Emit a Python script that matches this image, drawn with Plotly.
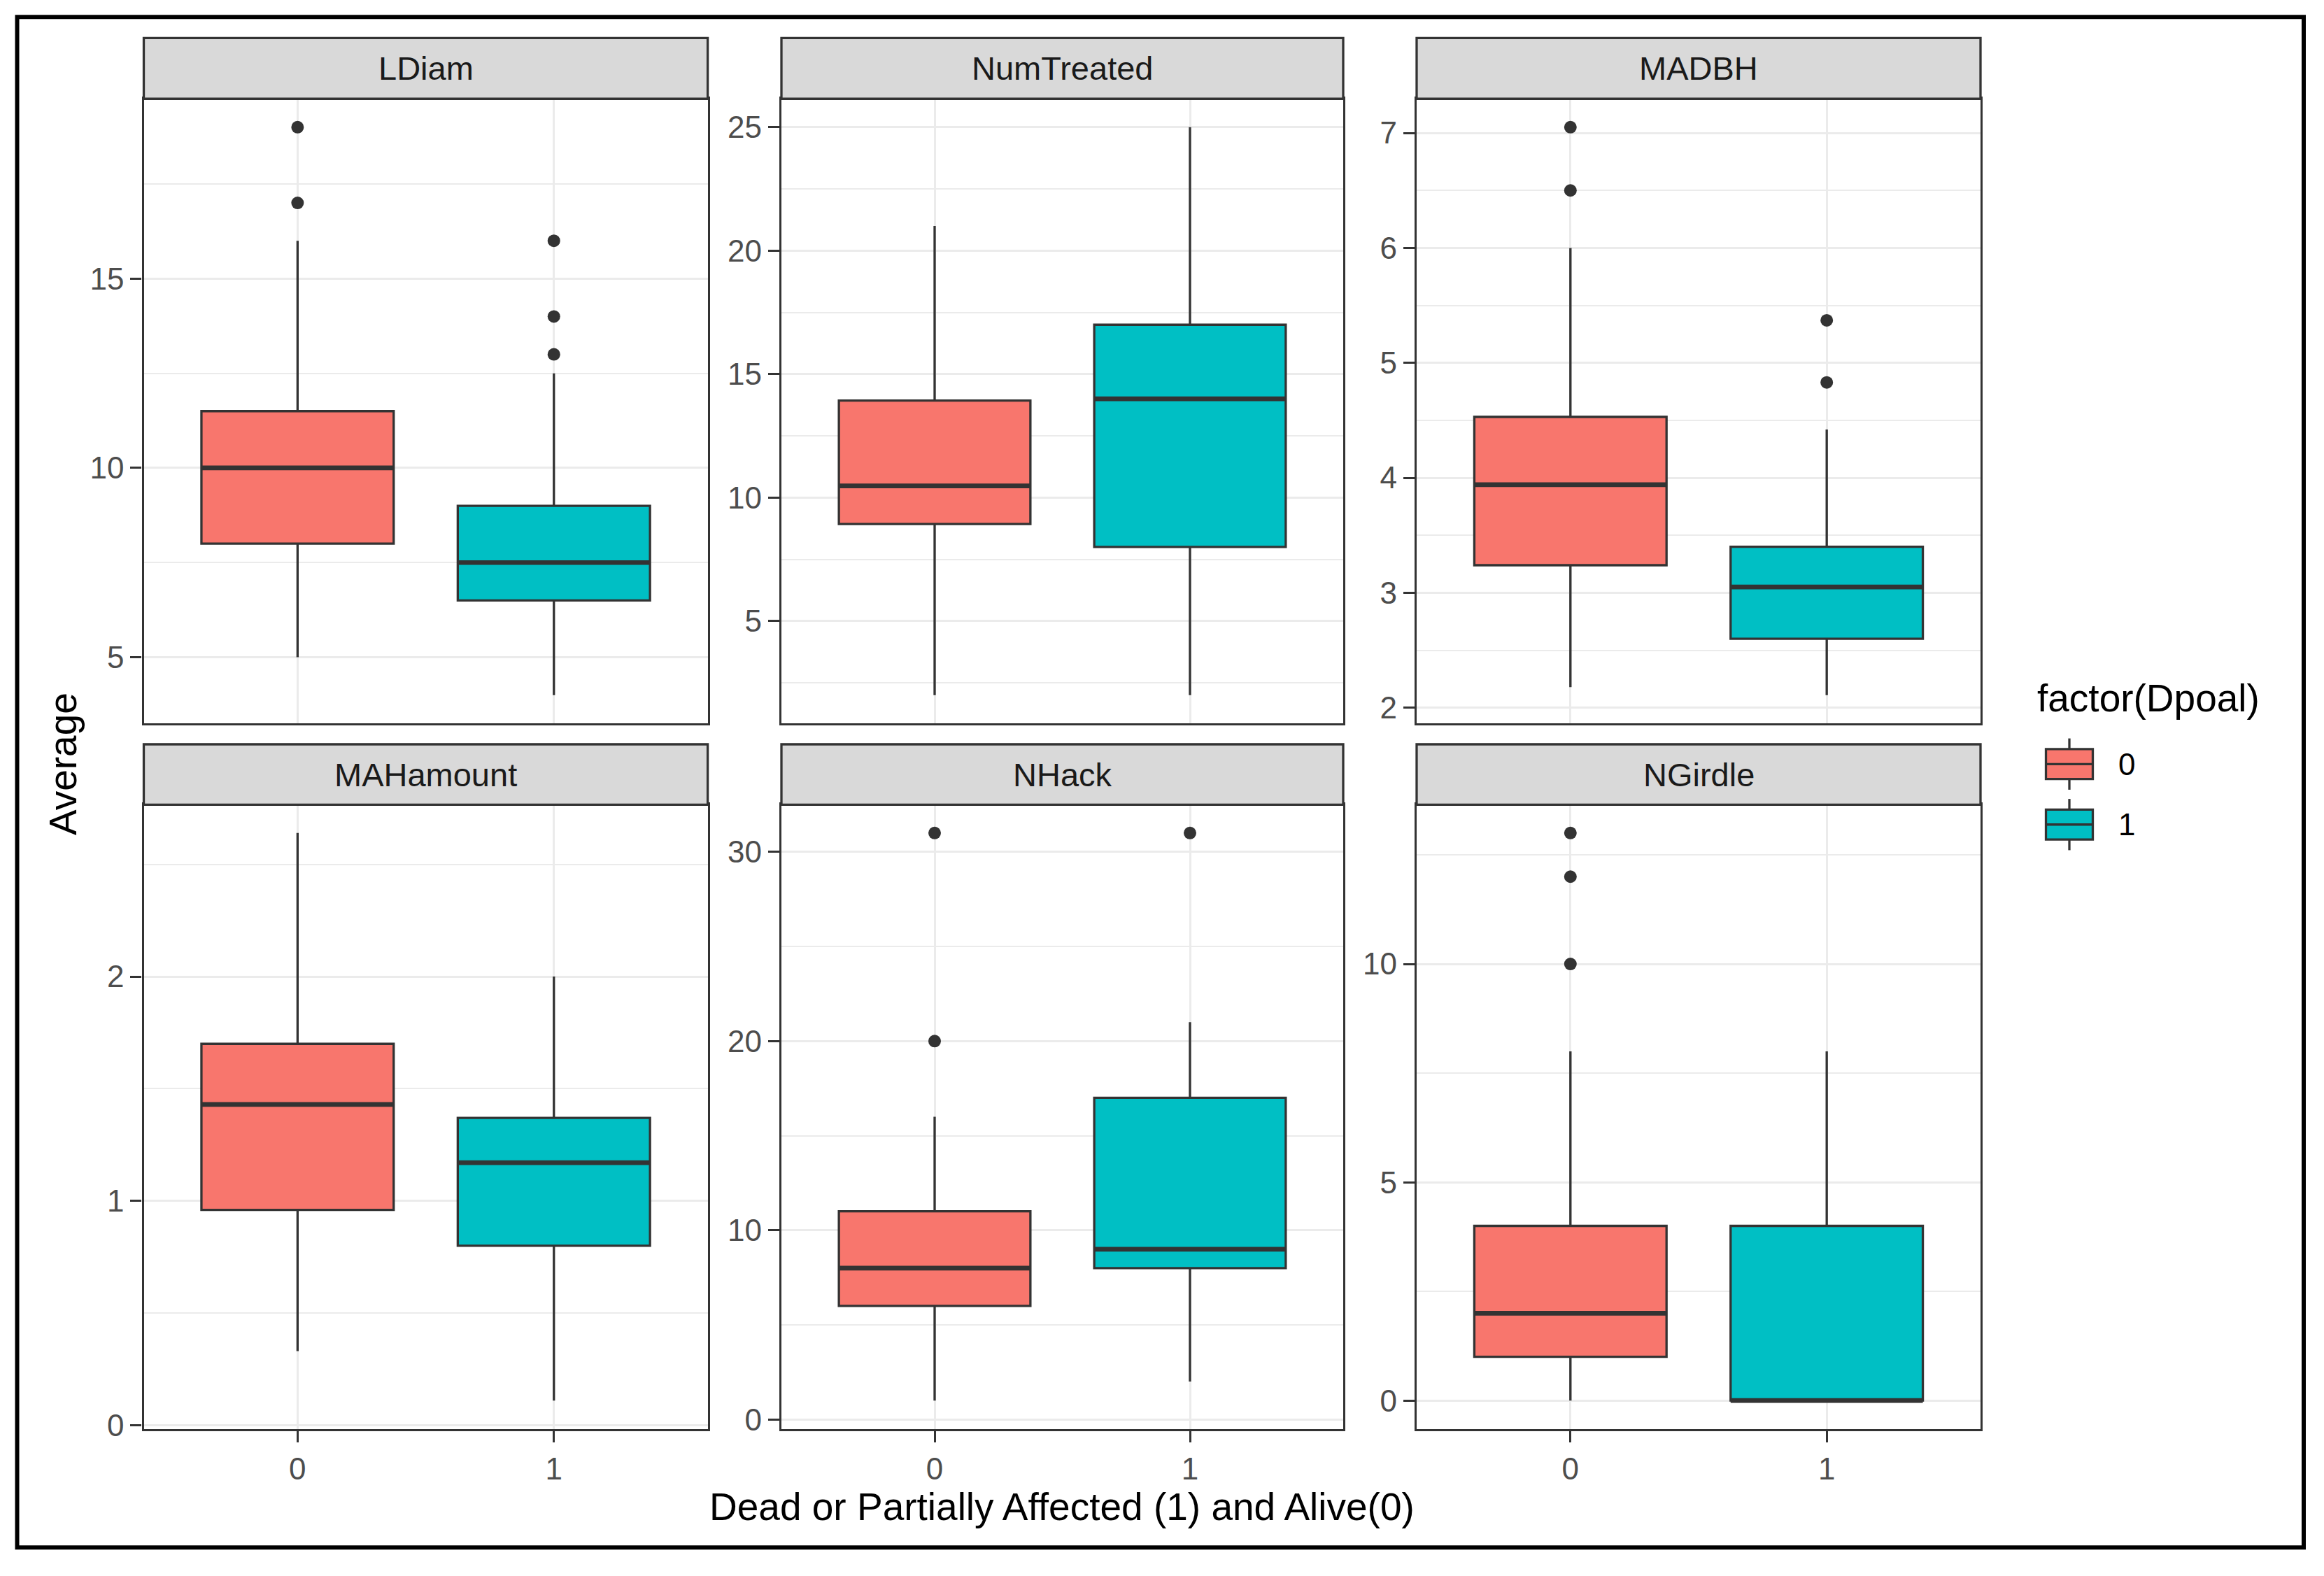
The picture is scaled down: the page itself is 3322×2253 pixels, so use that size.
import plotly.graph_objects as go

W, H = 3322, 2253
OFF = 8  # default page body margin of the html page
FONT = "Liberation Sans, Arial, sans-serif"

# ---------------- data ----------------
panels = ["LDiam", "NumTreated", "MADBH", "MAHamount", "NHack", "NGirdle"]
groups = ["0", "1"]
group_colors = ["#F8766D", "#00BFC4"]

# group 0 (Alive) box statistics per panel
lower_0 = [5, 2, 2.18, 0.33, 1, 0]
q1_0 = [8, 8.93, 3.24, 0.96, 6, 1]
median_0 = [10, 10.47, 3.94, 1.43, 8, 2]
q3_0 = [11.5, 13.93, 4.53, 1.70, 11, 4]
upper_0 = [16, 21, 6.0, 2.64, 16, 8]
outliers_0 = [[19, 17], [], [7.05, 6.5], [], [31, 20], [13, 12, 10]]

# group 1 (Dead or partially affected) box statistics per panel
lower_1 = [4, 2, 2.11, 0.11, 2, 0]
q1_1 = [6.5, 8, 2.60, 0.80, 8, 0]
median_1 = [7.5, 14, 3.05, 1.17, 9, 0]
q3_1 = [9, 17, 3.40, 1.37, 17, 4]
upper_1 = [12.5, 25, 4.42, 2.0, 21, 8]
outliers_1 = [[16, 14, 13], [], [5.37, 4.83], [], [31], []]

y_dtick = [5, 5, 1, 1, 10, 5]

x_title = "Dead or Partially Affected (1) and Alive(0)"
y_title = "Average"
legend_title = "factor(Dpoal)"

# ---------------- layout geometry (pixels) ----------------
col_x = [(205.5, 1011.6), (1117.0, 1920.0), (2025.0, 2831.0)]
row_y = [(142.4, 1043.0), (1160.0, 2060.0)]
strip_top = [54.7, 1073.0]
BOX_W = 0.75
DARK = "#333333"


def px(v):
    return (v - OFF) / W


def py(v):
    return 1 - (v - OFF) / H


stats = [
    (lower_0, q1_0, median_0, q3_0, upper_0, outliers_0),
    (lower_1, q1_1, median_1, q3_1, upper_1, outliers_1),
]

fig = go.Figure()
shapes = []
annotations = []

for i, name in enumerate(panels):
    r, c = divmod(i, 3)
    n = i + 1
    xa = "x" if n == 1 else f"x{n}"
    ya = "y" if n == 1 else f"y{n}"
    allv = []
    for g, (lo, q1, md, q3, up, outl) in enumerate(stats):
        fig.add_trace(go.Box(
            x=[g], lowerfence=[lo[i]], q1=[q1[i]], median=[md[i]], q3=[q3[i]],
            upperfence=[up[i]], width=BOX_W, whiskerwidth=0, boxpoints=False,
            fillcolor=group_colors[g], line=dict(color=DARK, width=3.3),
            xaxis=xa, yaxis=ya, showlegend=False, hoverinfo="skip"))
        fig.add_trace(go.Scatter(
            x=[g - BOX_W / 2, g + BOX_W / 2], y=[md[i], md[i]], mode="lines",
            line=dict(color=DARK, width=6.7), xaxis=xa, yaxis=ya,
            showlegend=False, hoverinfo="skip"))
        if outl[i]:
            fig.add_trace(go.Scatter(
                x=[g] * len(outl[i]), y=outl[i], mode="markers",
                marker=dict(color=DARK, size=18), xaxis=xa, yaxis=ya,
                showlegend=False, hoverinfo="skip"))
        allv += [lo[i], up[i]] + list(outl[i])
    vmin, vmax = min(allv), max(allv)
    pad = 0.05 * (vmax - vmin)
    x0, x1 = col_x[c]
    yt, yb = row_y[r]
    axis_common = dict(showline=True, mirror=True, linecolor=DARK, linewidth=3.3,
                       zeroline=False, gridcolor="#EBEBEB", gridwidth=3,
                       tickcolor=DARK, tickwidth=3.3, ticklen=16,
                       tickfont=dict(family=FONT, size=44, color="#4D4D4D"))
    fig.layout[f"xaxis{n}" if n > 1 else "xaxis"] = dict(
        domain=[px(x0), px(x1)], anchor=ya, range=[-0.6, 1.6],
        tickvals=[0, 1], ticktext=groups, showgrid=True,
        ticks="outside" if r == 1 else "", showticklabels=(r == 1),
        **axis_common)
    fig.layout[f"yaxis{n}" if n > 1 else "yaxis"] = dict(
        domain=[py(yb), py(yt)], anchor=xa,
        range=[vmin - pad, vmax + pad], tick0=0, dtick=y_dtick[i],
        showgrid=True, ticks="outside",
        minor=dict(tick0=0, dtick=y_dtick[i] / 2, showgrid=True,
                   gridcolor="#EBEBEB", gridwidth=1.6, ticks=""),
        **axis_common)
    # facet strip
    shapes.append(dict(type="rect", xref="paper", yref="paper",
                       x0=px(x0), x1=px(x1), y0=py(yt), y1=py(strip_top[r]),
                       fillcolor="#D9D9D9", line=dict(color=DARK, width=3.3),
                       layer="above"))
    annotations.append(dict(text=name, xref="paper", yref="paper",
                            x=px((x0 + x1) / 2), y=py((yt + strip_top[r]) / 2),
                            xanchor="center", yanchor="middle", showarrow=False,
                            font=dict(family=FONT, size=47, color="#1A1A1A")))

# outer frame
shapes.append(dict(type="rect", xref="paper", yref="paper",
                   x0=px(24.5), x1=px(3293), y0=py(2231), y1=py(24.5),
                   line=dict(color="black", width=6), layer="above"))

# axis titles
annotations.append(dict(text=x_title, xref="paper", yref="paper",
                        x=px((col_x[0][0] + col_x[2][1]) / 2), y=py(2172),
                        xanchor="center", yanchor="middle", showarrow=False,
                        font=dict(family=FONT, size=55, color="black")))
annotations.append(dict(text=y_title, xref="paper", yref="paper",
                        x=px(90), y=py((row_y[0][0] + row_y[1][1]) / 2),
                        xanchor="center", yanchor="middle", showarrow=False,
                        textangle=-90,
                        font=dict(family=FONT, size=55, color="black")))

# legend (ggplot-style boxplot keys)
annotations.append(dict(text=legend_title, xref="paper", yref="paper",
                        x=px(2910), y=py(1006), xanchor="left", yanchor="middle",
                        showarrow=False, font=dict(family=FONT, size=55, color="black")))
key_cx, key_w, key_h = 2958, 67, 86
key_centers = [1101.5, 1188.7]
for g, cy in enumerate(key_centers):
    shapes.append(dict(type="line", xref="paper", yref="paper",
                       x0=px(key_cx), x1=px(key_cx),
                       y0=py(cy - 0.43 * key_h), y1=py(cy + 0.43 * key_h),
                       line=dict(color=DARK, width=3.3)))
    shapes.append(dict(type="rect", xref="paper", yref="paper",
                       x0=px(key_cx - key_w / 2), x1=px(key_cx + key_w / 2),
                       y0=py(cy - key_h / 4), y1=py(cy + key_h / 4),
                       fillcolor=group_colors[g], line=dict(color=DARK, width=3.3)))
    shapes.append(dict(type="line", xref="paper", yref="paper",
                       x0=px(key_cx - key_w / 2), x1=px(key_cx + key_w / 2),
                       y0=py(cy), y1=py(cy),
                       line=dict(color=DARK, width=3.3)))
    annotations.append(dict(text=groups[g], xref="paper", yref="paper",
                            x=px(3026), y=py(cy), xanchor="left", yanchor="middle",
                            showarrow=False, font=dict(family=FONT, size=44, color="black")))

fig.update_layout(width=W, height=H, autosize=False,
                  margin=dict(l=0, r=0, t=0, b=0),
                  paper_bgcolor="white", plot_bgcolor="white",
                  showlegend=False, shapes=shapes, annotations=annotations)

fig.write_html("out.html")
